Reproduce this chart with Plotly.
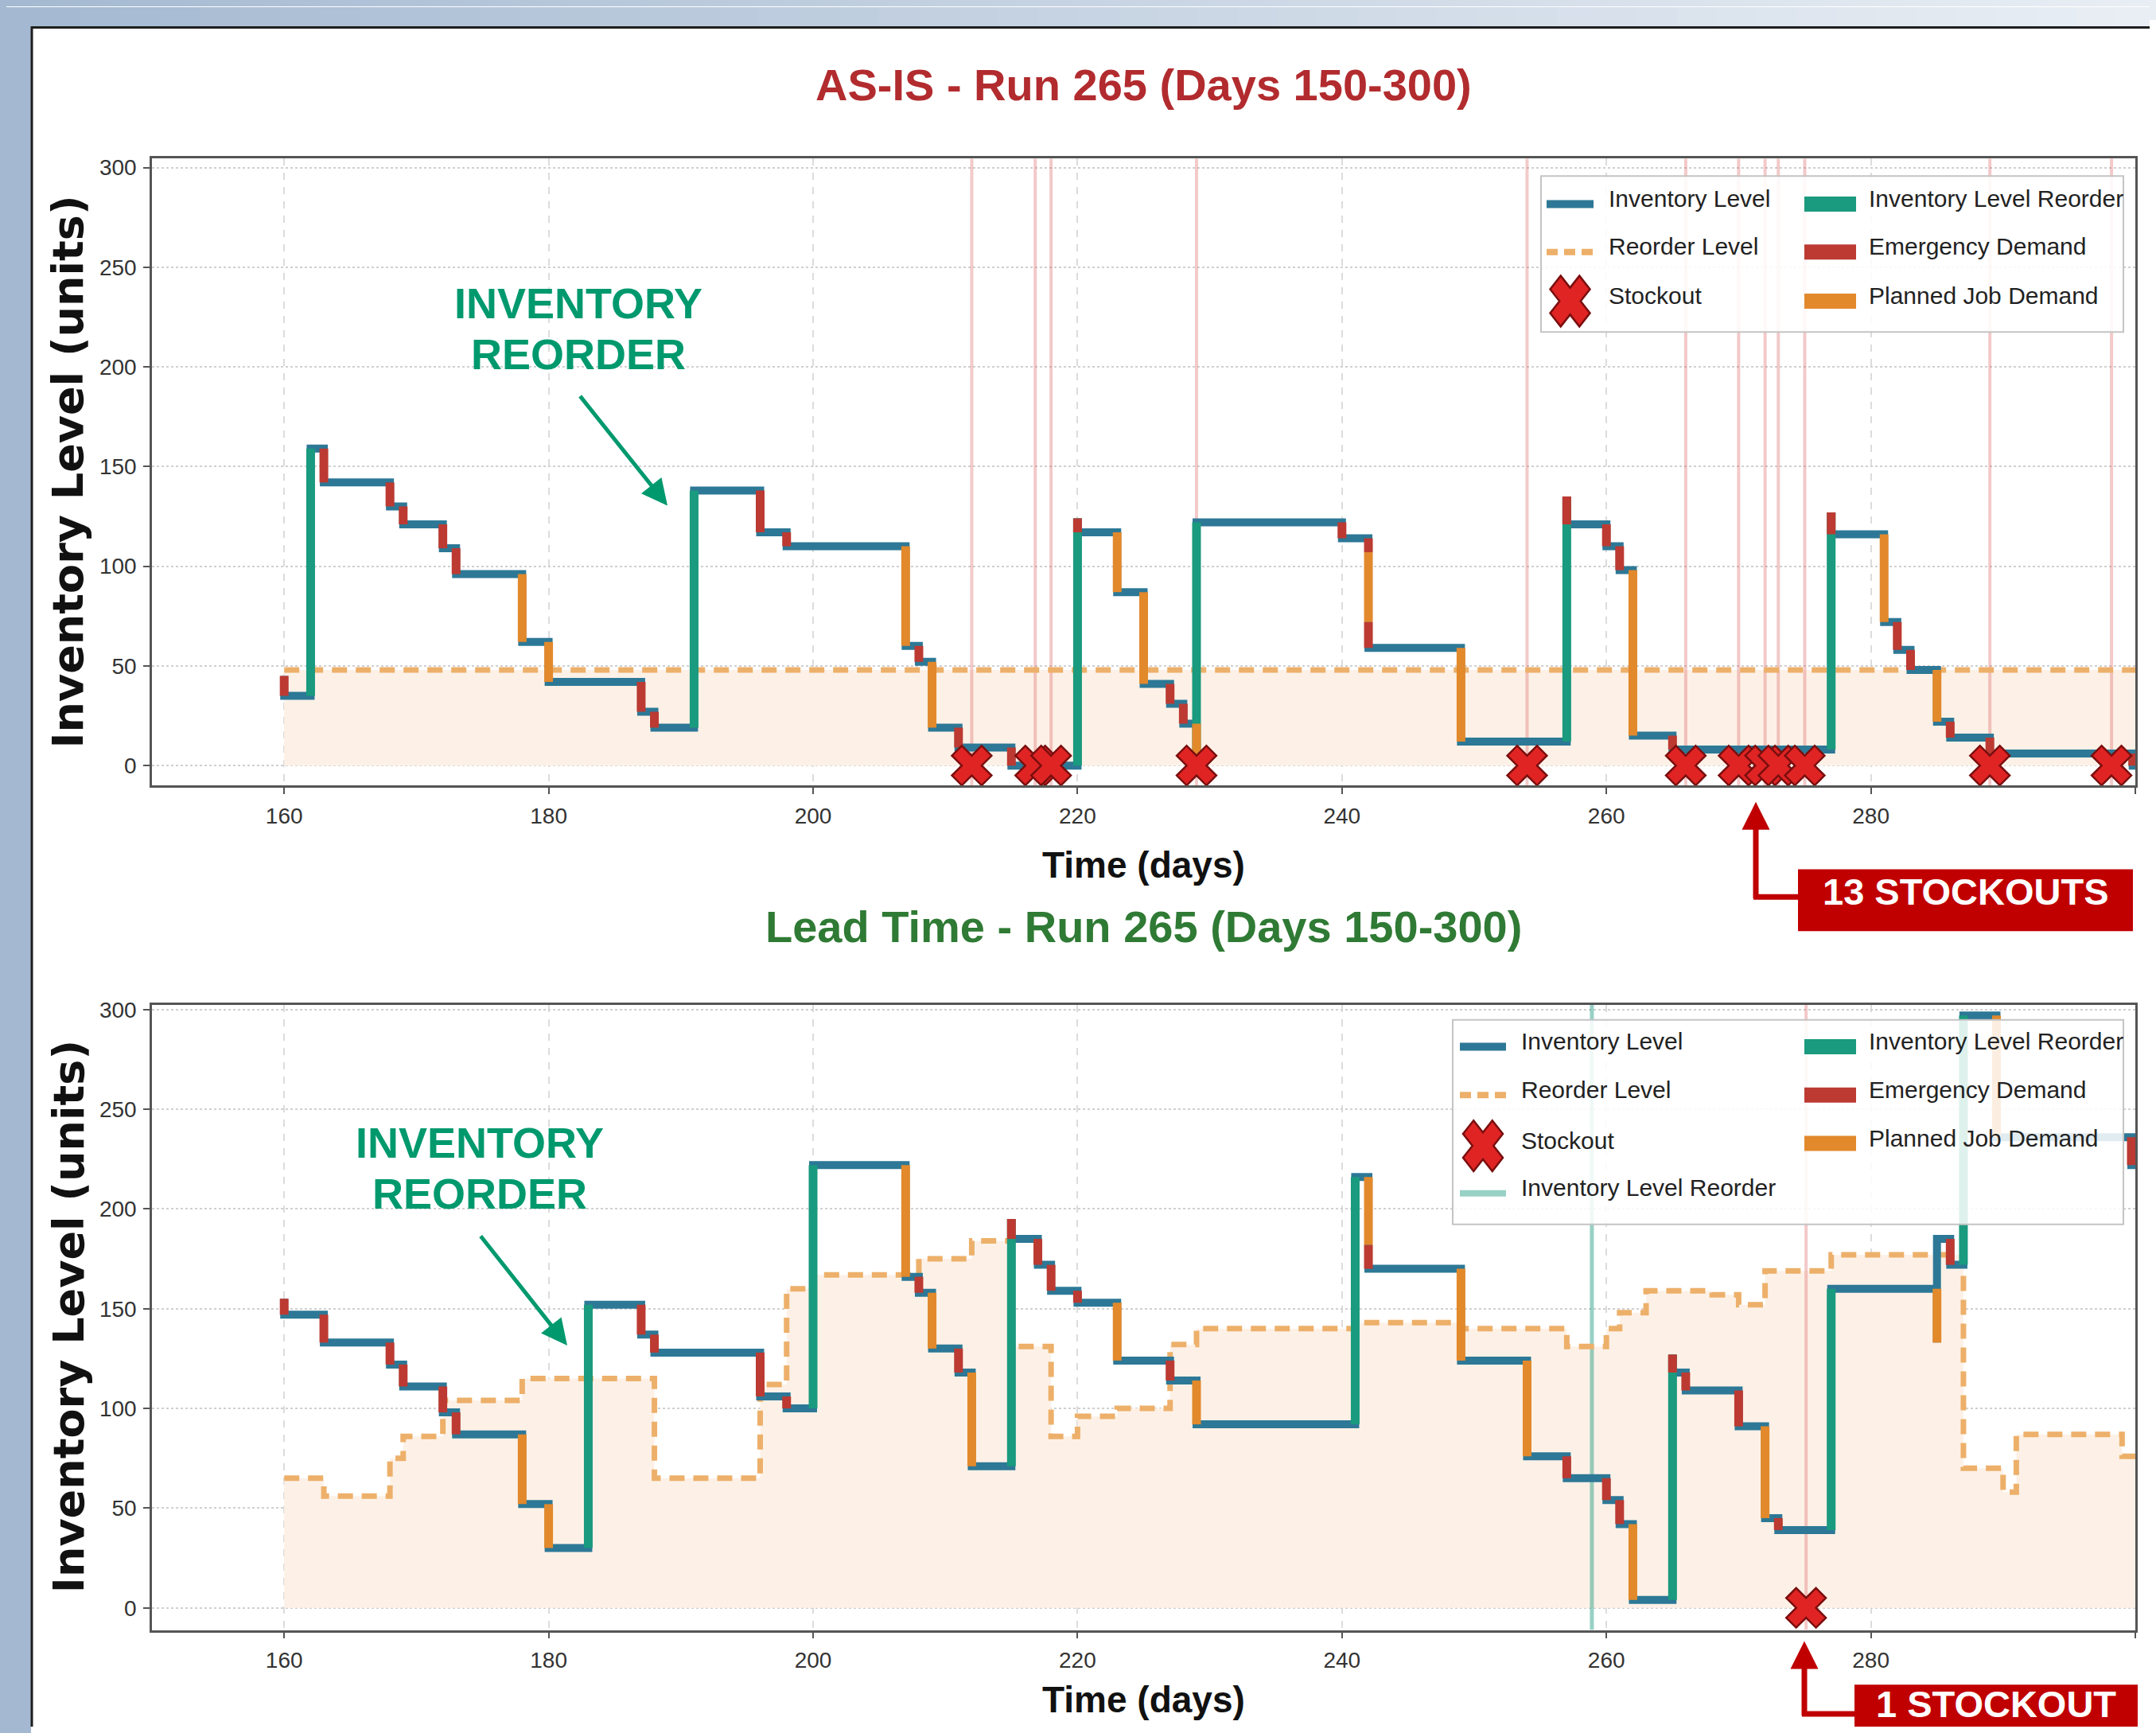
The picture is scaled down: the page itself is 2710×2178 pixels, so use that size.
import math
import plotly.graph_objects as go

PAGE_W, PAGE_H = 2710, 2178
OFF = 8  # default page body margin; the figure is sized so the page fits the window exactly
W, H = PAGE_W - 2 * OFF, PAGE_H - 2 * OFF

# ---------------- DATA ----------------
# AS-IS run (top panel): events = (day, level after event, type)
# types: E = emergency demand, P = planned job demand, R = reorder arrival, N = other change
asis_start_day = 160
asis_start_level = 45
asis_days = [160, 162, 163, 168, 169, 172, 173, 178, 180, 187,
             188, 191, 196, 198, 207, 208, 209, 211, 215, 220,
             220, 223, 225, 227, 228, 229, 229, 240, 242, 242,
             242, 249, 257, 257, 260, 261, 262, 265, 277, 277,
             281, 282, 283, 285, 286, 289, 299.8]
asis_levels = [35, 159, 142, 130, 121, 109, 96, 62, 42, 27,
               19, 138, 117, 110, 60, 52, 19, 9, 0, 124,
               117, 87, 41, 31, 21, 0, 122, 114, 107, 72,
               59, 12, 135, 121, 110, 98, 15, 8, 127, 116,
               72, 58, 48, 22, 14, 6, 0]
asis_types = ['E', 'R', 'E', 'E', 'E', 'E', 'E', 'P', 'P', 'E',
              'E', 'R', 'E', 'E', 'P', 'E', 'P', 'E', 'E', 'R',
              'E', 'P', 'P', 'E', 'E', 'P', 'R', 'E', 'E', 'P',
              'E', 'P', 'R', 'E', 'E', 'E', 'P', 'E', 'R', 'E',
              'P', 'E', 'E', 'P', 'E', 'E', 'E']
asis_reorder_days = [160, 300]
asis_reorder_vals = [48, 48]
asis_stockout_days = [212, 216.8, 218, 229, 254, 266, 270, 272, 273, 275, 289, 298.2]

# Lead Time run (bottom panel)
lt_start_day = 160
lt_start_level = 155
lt_days = [160, 163, 168, 169, 172, 173, 178, 180, 183, 187,
           188, 196, 198, 200, 207, 208, 209, 211, 212, 215,
           215, 217, 218, 220, 223, 227, 229, 241, 242, 242,
           249, 254, 257, 260, 261, 262, 265, 265, 266, 270,
           272, 273, 277, 285, 285, 286, 287, 289.5, 299.7]
lt_levels = [147, 133, 122, 111, 98, 87, 52, 30, 152, 137,
             128, 106, 100, 222, 166, 158, 130, 118, 71, 195,
             185, 172, 159, 153, 124, 114, 92, 216, 182, 170,
             124, 76, 65, 54, 42, 4, 127, 118, 109, 91,
             45, 39, 160, 133, 185, 172, 297, 236, 222]
lt_types = ['E', 'E', 'E', 'E', 'E', 'E', 'P', 'P', 'R', 'E',
            'E', 'E', 'E', 'R', 'P', 'E', 'P', 'E', 'P', 'R',
            'E', 'E', 'E', 'E', 'P', 'E', 'P', 'R', 'P', 'E',
            'P', 'P', 'E', 'E', 'E', 'P', 'R', 'E', 'E', 'E',
            'P', 'E', 'R', 'P', 'N', 'E', 'R', 'P', 'E']
lt_reorder_days = [160, 163, 168, 169, 172, 178, 188, 196, 198, 200,
                   208, 212, 215, 218, 220, 223, 227, 229, 241, 249,
                   257, 260, 261, 263, 268, 270, 272, 277, 287, 290,
                   291, 299]
lt_reorder_vals = [65, 56, 75, 86, 104, 115, 65, 112, 160, 167,
                   175, 184, 131, 86, 96, 100, 132, 140, 143, 140,
                   131, 140, 148, 159, 157, 152, 169, 177, 70, 58,
                   87, 76]
lt_stockout_days = [275.1]
lt_reorder_event_days = [258.9]

x_ticks = [160, 180, 200, 220, 240, 260, 280, 300]
y_ticks = [0, 50, 100, 150, 200, 250, 300]
END_DAY = 300

# ---------------- STYLE ----------------
BLUE = "#2D7896"
TEAL = "#1A9A7E"
RED = "#BC3A32"
ORANGE = "#E2892C"
REORDER = "#EDB06A"
FILL = "#FDF1E7"
LIGHT_TEAL = "rgba(26,154,126,0.45)"
STOCK_LINE = "rgba(220,90,90,0.33)"
ARIAL = "Liberation Sans, Arial, sans-serif"
DEJAVU = "DejaVu Sans, sans-serif"


def PX(x):
    return (x - OFF) / W


def PY(y):
    return 1 - (y - OFF) / H


X_DOM = [PX(191), PX(2684)]
TOP_DOM = [PY(982.5), PY(191)]
BOT_DOM = [PY(2048), PY(1259)]
TOP_RANGE = [-10.1, 304.5]
BOT_RANGE = [-11.1, 302.4]

fig = go.Figure()


def add_panel(xa, ya, yrange, start_day, start_level, days, levels, types,
              rdays, rvals, sdays, extra_days=None):
    rx = list(rdays) + ([END_DAY] if rdays[-1] != END_DAY else [])
    ry = list(rvals) + ([rvals[-1]] if rdays[-1] != END_DAY else [])
    # fill under reorder level
    fig.add_trace(go.Scatter(x=rx, y=ry, mode="lines", xaxis=xa, yaxis=ya,
                             line=dict(width=0, shape="hv"), fill="tozeroy",
                             fillcolor=FILL, hoverinfo="skip", showlegend=False))
    # stockout vertical lines
    vx, vy = [], []
    for d in sdays:
        vx += [d, d, None]
        vy += [yrange[0], yrange[1], None]
    fig.add_trace(go.Scatter(x=vx, y=vy, mode="lines", xaxis=xa, yaxis=ya,
                             line=dict(width=4, color=STOCK_LINE),
                             hoverinfo="skip", showlegend=False))
    if extra_days:
        ex, ey = [], []
        for d in extra_days:
            ex += [d, d, None]
            ey += [yrange[0], yrange[1], None]
        fig.add_trace(go.Scatter(x=ex, y=ey, mode="lines", xaxis=xa, yaxis=ya,
                                 line=dict(width=5, color=LIGHT_TEAL),
                                 hoverinfo="skip", showlegend=False))
    # reorder level dashed
    fig.add_trace(go.Scatter(x=rx, y=ry, mode="lines", xaxis=xa, yaxis=ya,
                             line=dict(width=7, color=REORDER, shape="hv", dash="19px,11px"),
                             hoverinfo="skip", showlegend=False))
    # inventory step line
    sx = [start_day] + list(days) + [END_DAY]
    sy = [start_level] + list(levels) + [levels[-1]]
    fig.add_trace(go.Scatter(x=sx, y=sy, mode="lines", xaxis=xa, yaxis=ya,
                             line=dict(width=10, color=BLUE, shape="hv"),
                             hoverinfo="skip", showlegend=False))
    # colored vertical segments
    segs = {"R": ([], []), "E": ([], []), "P": ([], [])}
    prev = start_level
    for d, l, t in zip(days, levels, types):
        if t in segs:
            segs[t][0].extend([d, d, None])
            segs[t][1].extend([prev, l, None])
        prev = l
    for t, col in (("R", TEAL), ("E", RED), ("P", ORANGE)):
        fig.add_trace(go.Scatter(x=segs[t][0], y=segs[t][1], mode="lines",
                                 xaxis=xa, yaxis=ya, line=dict(width=11, color=col),
                                 hoverinfo="skip", showlegend=False))
    # stockout markers
    fig.add_trace(go.Scatter(x=sdays, y=[0] * len(sdays), mode="markers",
                             xaxis=xa, yaxis=ya, cliponaxis=False,
                             marker=dict(symbol="x", size=44, color="#E02424",
                                         line=dict(color="#7A0E0E", width=2.5)),
                             hoverinfo="skip", showlegend=False))


add_panel("x", "y", TOP_RANGE, asis_start_day, asis_start_level, asis_days,
          asis_levels, asis_types, asis_reorder_days, asis_reorder_vals,
          asis_stockout_days)
add_panel("x2", "y2", BOT_RANGE, lt_start_day, lt_start_level, lt_days,
          lt_levels, lt_types, lt_reorder_days, lt_reorder_vals,
          lt_stockout_days, extra_days=lt_reorder_event_days)


def xaxis_cfg(anchor):
    return dict(domain=X_DOM, anchor=anchor, range=[150, 300], tickmode="array",
                tickvals=x_ticks, showline=True, mirror=True, linecolor="#555",
                linewidth=2.5, ticks="outside", ticklen=8, tickwidth=2,
                tickcolor="#555", showgrid=True, gridcolor="#DCDCDC", gridwidth=1.5,
                griddash="dash", zeroline=False, ticklabelstandoff=3,
                tickfont=dict(size=28, color="#333", family=ARIAL), fixedrange=True)


def yaxis_cfg(anchor, dom, rng):
    return dict(domain=dom, anchor=anchor, range=rng, tickmode="array",
                tickvals=y_ticks, showline=True, mirror=True, linecolor="#555",
                linewidth=2.5, ticks="outside", ticklen=8, tickwidth=2,
                tickcolor="#555", showgrid=True, gridcolor="#D0D0D0", gridwidth=1.8,
                griddash="dot", zeroline=False, ticklabelstandoff=3,
                tickfont=dict(size=28, color="#333", family=ARIAL), fixedrange=True)


shapes = []
annotations = []

# ---- background frame (continues the page background drawn around the figure) ----
shapes.append(dict(type="rect", xref="paper", yref="paper", x0=PX(0), x1=PX(39),
                   y0=PY(PAGE_H + 20), y1=PY(0), fillcolor="#A4B9D1",
                   line=dict(width=0), layer="below"))
N = 54
c0 = (164, 185, 209)
c1 = (233, 238, 244)
for i in range(N):
    f = i / (N - 1)
    col = "rgb(%d,%d,%d)" % tuple(round(c0[k] + (c1[k] - c0[k]) * f) for k in range(3))
    shapes.append(dict(type="rect", xref="paper", yref="paper",
                       x0=PX(PAGE_W * i / N), x1=PX(PAGE_W * (i + 1) / N) + 0.0005,
                       y0=PY(25), y1=PY(0), fillcolor=col, line=dict(width=0),
                       layer="below"))
shapes.append(dict(type="line", xref="paper", yref="paper", x0=PX(39), x1=PX(PAGE_W + 20),
                   y0=PY(25.5), y1=PY(25.5), line=dict(color="#1E1E1E", width=3),
                   layer="below"))
shapes.append(dict(type="line", xref="paper", yref="paper", x0=PX(40), x1=PX(40),
                   y0=PY(24), y1=PY(PAGE_H + 20), line=dict(color="#1E1E1E", width=3),
                   layer="below"))


# ---- manual legends ----
def x_path(cx, cy, hw, hh, t=0.36):
    base = [(t, 1), (t, t), (1, t), (1, -t), (t, -t), (t, -1), (-t, -1), (-t, -t),
            (-1, -t), (-1, t), (-t, t), (-t, 1)]
    m = (1 + t) / math.sqrt(2)
    pts = []
    for x, y in base:
        xr = (x - y) / math.sqrt(2) / m
        yr = (x + y) / math.sqrt(2) / m
        pts.append((PX(cx + xr * hw), PY(cy - yr * hh)))
    return "M " + " L ".join("%.6f,%.6f" % p for p in pts) + " Z"


def legend(box, items):
    x0, y0, x1, y1 = box
    shapes.append(dict(type="rect", xref="paper", yref="paper", x0=PX(x0), x1=PX(x1),
                       y0=PY(y1), y1=PY(y0), fillcolor="rgba(255,255,255,0.86)",
                       line=dict(color="#C4C4C4", width=2), layer="above"))
    for kind, col, sx0, sx1, yy, text, tx, wdt in items:
        if kind == "line":
            shapes.append(dict(type="line", xref="paper", yref="paper", x0=PX(sx0),
                               x1=PX(sx1), y0=PY(yy), y1=PY(yy),
                               line=dict(color=col, width=wdt), layer="above"))
        elif kind == "dash":
            shapes.append(dict(type="line", xref="paper", yref="paper", x0=PX(sx0),
                               x1=PX(sx1), y0=PY(yy), y1=PY(yy),
                               line=dict(color=col, width=wdt, dash="14px,8px"),
                               layer="above"))
        elif kind == "x":
            cx = (sx0 + sx1) / 2
            shapes.append(dict(type="path", xref="paper", yref="paper",
                               path=x_path(cx, yy, 25, 32), fillcolor="#E02424",
                               line=dict(color="#7A0E0E", width=2.5), layer="above"))
        annotations.append(dict(x=PX(tx), y=PY(yy - 7), xref="paper", yref="paper",
                                text=text, showarrow=False, xanchor="left",
                                yanchor="middle",
                                font=dict(family=ARIAL, size=30, color="#222")))


legend((1937, 213, 2669, 410), [
    ("line", BLUE, 1944, 2003, 248.5, "Inventory Level", 2020, 10),
    ("dash", REORDER, 1944, 2003, 309, "Reorder Level", 2020, 8),
    ("x", None, 1944, 2003, 371, "Stockout", 2020, 0),
    ("line", TEAL, 2268, 2333, 248.5, "Inventory Level Reorder", 2347, 19),
    ("line", RED, 2268, 2333, 309, "Emergency Demand", 2347, 19),
    ("line", ORANGE, 2268, 2333, 371, "Planned Job Demand", 2347, 19),
])
legend((1826, 1278, 2669, 1536), [
    ("line", BLUE, 1835, 1893, 1312, "Inventory Level", 1910, 10),
    ("dash", REORDER, 1835, 1893, 1373, "Reorder Level", 1910, 8),
    ("x", None, 1835, 1893, 1437, "Stockout", 1910, 0),
    ("line", "rgba(26,154,126,0.45)", 1835, 1893, 1497, "Inventory Level Reorder", 1910, 8),
    ("line", TEAL, 2268, 2333, 1312, "Inventory Level Reorder", 2347, 19),
    ("line", RED, 2268, 2333, 1373, "Emergency Demand", 2347, 19),
    ("line", ORANGE, 2268, 2333, 1434, "Planned Job Demand", 2347, 19),
])


# ---- titles ----
def text_at(x, y, text, size, color, family, angle=0):
    annotations.append(dict(x=PX(x), y=PY(y), xref="paper", yref="paper", text=text,
                            showarrow=False, xanchor="center", yanchor="middle",
                            textangle=angle, font=dict(family=family, size=size, color=color)))


text_at(1437, 98, "<b>AS-IS - Run 265 (Days 150-300)</b>", 56, "#B22B2E", ARIAL)
text_at(1437, 1160, "<b>Lead Time - Run 265 (Days 150-300)</b>", 56, "#2F7A34", ARIAL)
text_at(1437, 1082, "<b>Time (days)</b>", 46, "#111", ARIAL)
text_at(1437, 2136, "<b>Time (days)</b>", 46, "#111", ARIAL)
text_at(86, 587, "<b>Inventory Level (units)</b>", 54, "#111", DEJAVU, angle=-90)
text_at(86, 1653, "<b>Inventory Level (units)</b>", 54, "#111", DEJAVU, angle=-90)

# ---- green callouts ----
GREEN = "#00996E"
for cx, y1, y2, tail, tip in ((727, 374, 438, (728, 490), (839, 629)),
                              (603, 1433, 1497, (603, 1550), (713, 1689))):
    text_at(cx, y1, "<b>INVENTORY</b>", 54, GREEN, ARIAL)
    text_at(cx, y2, "<b>REORDER</b>", 54, GREEN, ARIAL)
    annotations.append(dict(x=PX(tip[0]), y=PY(tip[1]), xref="paper", yref="paper",
                            text="", showarrow=True, ax=tail[0] - tip[0],
                            ay=tail[1] - tip[1], axref="pixel", ayref="pixel",
                            arrowhead=2, arrowsize=1.3, arrowwidth=5,
                            arrowcolor=GREEN, standoff=0))

# ---- red callouts ----
DARKRED = "#C00000"
for (bx0, by0, bx1, by1, label, text_y, ax_x, tip_y, corner_y) in (
        (2260, 1088, 2681, 1166, "<b>13 STOCKOUTS</b>", 1116, 2207, 1003, 1123),
        (2331, 2117, 2687, 2186, "<b>1 STOCKOUT</b>", 2141, 2268, 2062, 2154)):
    shapes.append(dict(type="rect", xref="paper", yref="paper", x0=PX(bx0), x1=PX(bx1),
                       y0=PY(by1), y1=PY(by0), fillcolor=DARKRED, line=dict(width=0),
                       layer="above"))
    shapes.append(dict(type="line", xref="paper", yref="paper", x0=PX(ax_x - 3),
                       x1=PX(bx0), y0=PY(corner_y), y1=PY(corner_y),
                       line=dict(color=DARKRED, width=7), layer="above"))
    annotations.append(dict(x=PX(ax_x), y=PY(tip_y), xref="paper", yref="paper",
                            text="", showarrow=True, ax=0, ay=corner_y - tip_y + 3,
                            axref="pixel", ayref="pixel", arrowhead=2, arrowsize=1.0,
                            arrowwidth=7, arrowcolor=DARKRED, standoff=0))
    annotations.append(dict(x=PX((bx0 + bx1) / 2), y=PY(text_y),
                            xref="paper", yref="paper", text=label, showarrow=False,
                            xanchor="center", yanchor="middle",
                            font=dict(family=ARIAL, size=47, color="white")))

fig.update_layout(
    width=W, height=H, autosize=False,
    margin=dict(l=0, r=0, t=0, b=0),
    paper_bgcolor="white", plot_bgcolor="white",
    showlegend=False,
    font=dict(family=ARIAL, color="#222"),
    xaxis=xaxis_cfg("y"), yaxis=yaxis_cfg("x", TOP_DOM, TOP_RANGE),
    xaxis2=xaxis_cfg("y2"), yaxis2=yaxis_cfg("x2", BOT_DOM, BOT_RANGE),
    shapes=shapes, annotations=annotations,
)

fig.write_html(
    "out.html",
    config={"displayModeBar": False},
    post_script=("document.body.style.background="
                 "'linear-gradient(to right, #A4B9D1, #E9EEF4) 0 0 / 100% 25px no-repeat,"
                 " linear-gradient(#A4B9D1, #A4B9D1) 0 0 / 39px 100% no-repeat, #ffffff';"),
)
